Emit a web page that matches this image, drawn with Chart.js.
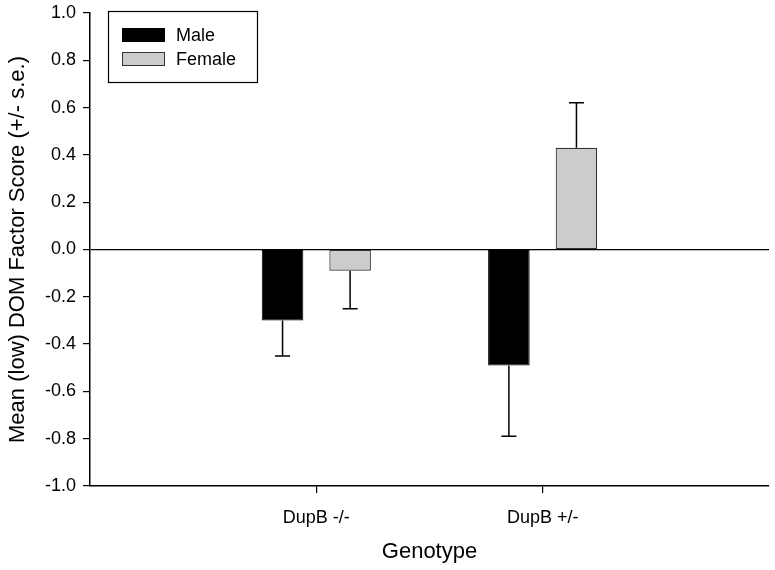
<!DOCTYPE html>
<html>
<head>
<meta charset="utf-8">
<script src="https://cdn.jsdelivr.net/npm/chart.js@4"></script>
<style>
html,body{margin:0;padding:0;background:#fff;}
#wrap{width:775px;height:570px;}
</style>
</head>
<body>
<div id="wrap"><canvas id="c" width="775" height="570"></canvas></div>
<script>
const categories = ['DupB -/-', 'DupB +/-'];
const seriesNames = ['Male', 'Female'];
const maleMeans = [-0.30, -0.49];
const femaleMeans = [-0.09, 0.43];
const maleSE = [0.15, 0.30];
const femaleSE = [0.16, 0.19];
const yTicks = [-1.0, -0.8, -0.6, -0.4, -0.2, 0.0, 0.2, 0.4, 0.6, 0.8, 1.0];

// category axis padded with empty slots at each end
const labels = [''].concat(categories, ['']);
const pad = arr => [null].concat(arr, [null]);

const FONT = 'Liberation Sans, Arial, sans-serif';

const errorBars = {
  id: 'errorBars',
  afterDatasetsDraw(chart) {
    const ctx = chart.ctx;
    const y = chart.scales.y;
    ctx.save();
    ctx.strokeStyle = '#000';
    ctx.lineWidth = 1.5;
    chart.data.datasets.forEach((ds, di) => {
      const meta = chart.getDatasetMeta(di);
      meta.data.forEach((bar, i) => {
        const v = ds.data[i];
        const e = ds.errors[i];
        if (v === null || e === null || e === undefined) return;
        const end = v >= 0 ? v + e : v - e;
        const x = bar.x;
        const y0 = y.getPixelForValue(v);
        const y1 = y.getPixelForValue(end);
        ctx.beginPath();
        ctx.moveTo(x, y0);
        ctx.lineTo(x, y1);
        ctx.moveTo(x - 7.5, y1);
        ctx.lineTo(x + 7.5, y1);
        ctx.stroke();
      });
    });
    ctx.restore();
  }
};

const boxLegend = {
  id: 'boxLegend',
  afterDraw(chart) {
    const ctx = chart.ctx;
    const a = chart.chartArea;
    const bx = a.left + 18, by = a.top - 2, bw = 149, bh = 71;
    ctx.save();
    ctx.fillStyle = '#fff';
    ctx.fillRect(bx, by, bw, bh);
    ctx.strokeStyle = '#000';
    ctx.lineWidth = 1.2;
    ctx.strokeRect(bx + 0.5, by + 0.5, bw, bh);
    ctx.font = '18px ' + FONT;
    ctx.textBaseline = 'middle';
    chart.data.datasets.forEach((ds, i) => {
      const sy = by + 17 + i * 24;
      ctx.fillStyle = ds.backgroundColor;
      ctx.fillRect(bx + 14, sy, 43, 14);
      ctx.strokeStyle = ds.borderColor;
      ctx.lineWidth = 1;
      ctx.strokeRect(bx + 14.5, sy + 0.5, 42, 13);
      ctx.fillStyle = '#000';
      ctx.fillText(ds.label, bx + 68, sy + 8);
    });
    ctx.restore();
  }
};

new Chart(document.getElementById('c'), {
  type: 'bar',
  data: {
    labels: labels,
    datasets: [
      { label: seriesNames[0], data: pad(maleMeans), errors: pad(maleSE),
        backgroundColor: '#000000', borderColor: '#000000', borderWidth: 1, borderSkipped: false },
      { label: seriesNames[1], data: pad(femaleMeans), errors: pad(femaleSE),
        backgroundColor: '#cccccc', borderColor: '#333333', borderWidth: 1.2, borderSkipped: false }
    ]
  },
  options: {
    responsive: false,
    animation: false,
    devicePixelRatio: 1,
    categoryPercentage: 0.597,
    barPercentage: 0.615,
    layout: { padding: { top: 13, right: 6, left: 0, bottom: 0 } },
    plugins: { legend: { display: false }, tooltip: { enabled: false } },
    scales: {
      x: {
        type: 'category',
        offset: false,
        afterFit(s) { s.height = 84; s.paddingLeft = 0; s.paddingRight = 0; },
        grid: {
          offset: false,
          drawOnChartArea: false,
          color: 'transparent',
          tickColor: c => (c.index === 1 || c.index === 2) ? '#000' : 'transparent',
          tickLength: 7,
          lineWidth: 1.2
        },
        border: { display: true, color: '#000', width: 1.5 },
        ticks: { color: '#000', font: { family: FONT, size: 18 }, padding: 14, maxRotation: 0, autoSkip: false },
        title: { display: true, text: 'Genotype', color: '#000', font: { family: FONT, size: 22 }, padding: { top: 0, bottom: 5 } }
      },
      y: {
        min: -1, max: 1,
        afterFit(s) { s.width = 90; s.paddingTop = 0; s.paddingBottom = 0; },
        afterBuildTicks(s) { s.ticks = yTicks.map(v => ({ value: v })); },
        grid: {
          color: c => (c.tick && c.tick.value === 0) ? '#000' : 'transparent',
          tickColor: '#000',
          tickLength: 7,
          lineWidth: 1.2
        },
        border: { display: true, color: '#000', width: 1.5 },
        ticks: { color: '#000', font: { family: FONT, size: 18 }, padding: 7, callback: v => Number(v).toFixed(1) },
        title: { display: true, text: 'Mean (low) DOM Factor Score (+/- s.e.)', color: '#000', font: { family: FONT, size: 22 }, padding: { top: 5, bottom: 0 } }
      }
    }
  },
  plugins: [errorBars, boxLegend]
});
</script>
</body>
</html>
